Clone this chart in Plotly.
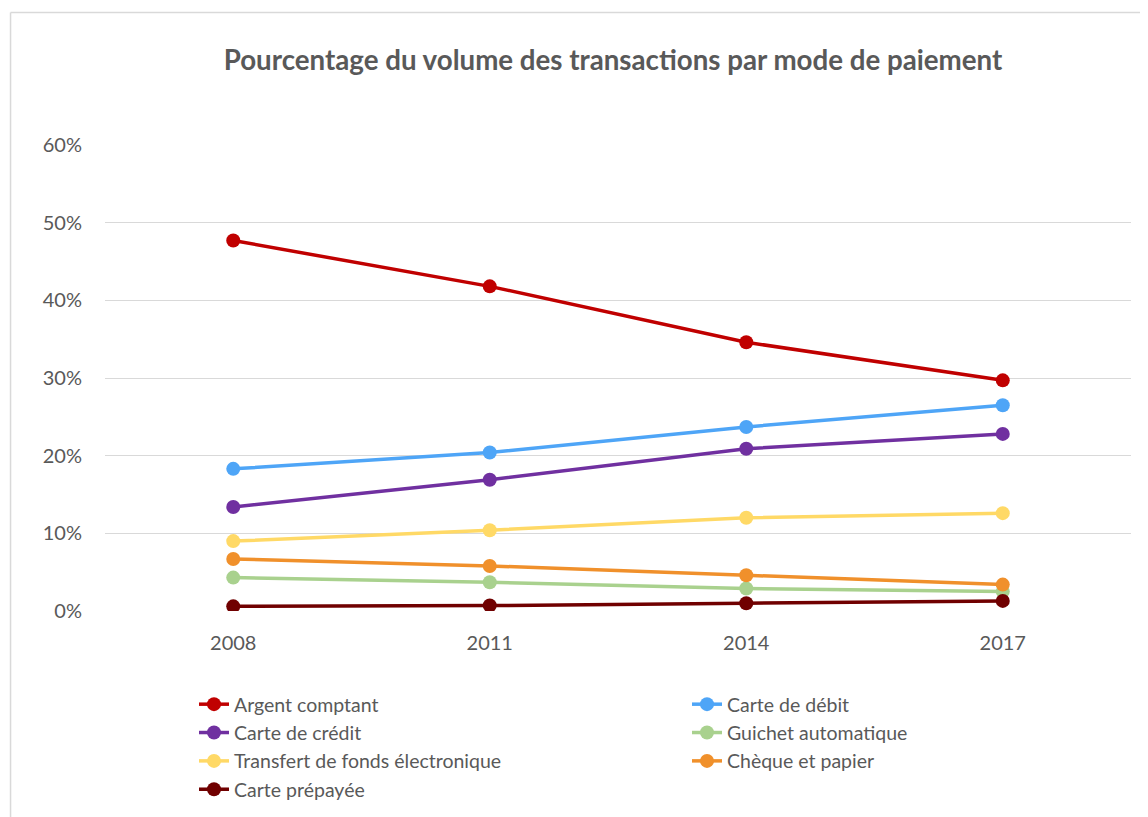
import plotly.graph_objects as go

years = ["2008", "2011", "2014", "2017"]
argent = [0.477, 0.418, 0.346, 0.297]
debit = [0.183, 0.204, 0.237, 0.265]
credit = [0.134, 0.169, 0.209, 0.228]
guichet = [0.043, 0.037, 0.029, 0.025]
transfert = [0.090, 0.104, 0.120, 0.126]
cheque = [0.067, 0.058, 0.046, 0.034]
prepayee = [0.006, 0.007, 0.010, 0.013]

series = [
    ("Argent comptant", argent, "#C00000", "legend"),
    ("Carte de débit", debit, "#4EA5F7", "legend2"),
    ("Carte de crédit", credit, "#7030A0", "legend"),
    ("Guichet automatique", guichet, "#A9D18E", "legend2"),
    ("Transfert de fonds électronique", transfert, "#FFD966", "legend"),
    ("Chèque et papier", cheque, "#F0902B", "legend2"),
    ("Carte prépayée", prepayee, "#700000", "legend"),
]

FONT = "Lato, 'Open Sans', sans-serif"
GREY = "#595959"

fig = go.Figure()
for name, vals, col, lg in series:
    fig.add_trace(go.Scatter(
        x=years, y=vals, name=name, mode="lines+markers",
        line=dict(color=col, width=3.5),
        marker=dict(color=col, size=14),
        legend=lg,
    ))

# page body adds an 8px offset; figure sized to fill the rest of the window
OFF = 8
W, H = 1148 - OFF, 817 - OFF
L, R, T, B = 104.5 - OFF, W - (1131 - OFF), 145 - OFF, H - (611 - OFF)
pw = W - L - R
ph = H - T - B

leg_common = dict(
    orientation="v", xref="container", yref="container",
    xanchor="left", yanchor="top",
    font=dict(size=19.5, color=GREY, family=FONT),
    bgcolor="rgba(0,0,0,0)", tracegroupgap=0,
)

fig.update_layout(
    width=W, height=H,
    margin=dict(l=L, r=R, t=T, b=B, autoexpand=False),
    paper_bgcolor="white", plot_bgcolor="white",
    font=dict(family=FONT, color=GREY, size=20),
    title=dict(
        text="<b>Pourcentage du volume des transactions par mode de paiement</b>",
        x=(613 - OFF) / W, xref="container", xanchor="center",
        y=1 - (60 - OFF) / H, yref="container", yanchor="middle",
        font=dict(family=FONT, size=27.7, color=GREY),
    ),
    xaxis=dict(
        type="category", range=[-0.5, 3.5], showgrid=False,
        showline=False, zeroline=False, ticks="",
        tickfont=dict(size=20, color=GREY), ticklabelstandoff=18,
    ),
    yaxis=dict(
        range=[0, 0.6], dtick=0.1, tickformat=".0%",
        showgrid=True, gridcolor="#D9D9D9", gridwidth=1,
        zeroline=False, showline=False, ticks="",
        tickfont=dict(size=20, color=GREY), ticklabelstandoff=22,
    ),
    legend=dict(x=186 / W, y=1 - 677 / H, **leg_common),
    legend2=dict(x=679 / W, y=1 - 677 / H, **leg_common),
    showlegend=True,
)

# chart border: left and top edges
bx = 10 - OFF
by = 12.5 - OFF
fig.add_shape(type="line", xref="paper", yref="paper",
              x0=(bx - L) / pw, x1=(W + 5 - L) / pw,
              y0=1 + (T - by) / ph, y1=1 + (T - by) / ph,
              line=dict(color="#D9D9D9", width=1.5), layer="below")
fig.add_shape(type="line", xref="paper", yref="paper",
              x0=(bx - L) / pw, x1=(bx - L) / pw,
              y0=1 + (T - by) / ph, y1=-(H + 5 - T - ph) / ph,
              line=dict(color="#D9D9D9", width=1.5), layer="below")

fig.write_html("out.html")
